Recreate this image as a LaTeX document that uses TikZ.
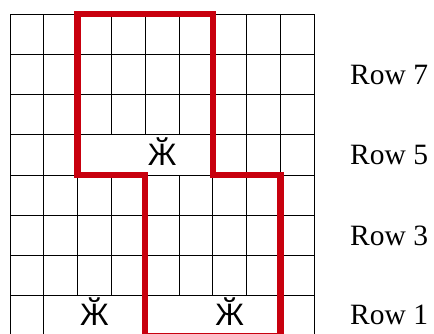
\documentclass[tikz,border=0pt]{standalone}
\usepackage{fontspec}
\setmainfont{Liberation Serif}
\newfontfamily\zhefont{Liberation Sans}
\definecolor{wallred}{RGB}{200,0,14}
\tikzset{
  gridline/.style={black, line width=0.9pt},
  wall/.style={wallred, line width=6.5pt, line join=miter},
  rowlabel/.style={anchor=base west, inner sep=0pt, font=\fontsize{29.5}{31}\selectfont},
  zhe/.style={anchor=base, inner sep=0pt, font=\zhefont\fontsize{31}{33}\selectfont}
}
\begin{document}
\begin{tikzpicture}[x=1pt,y=-1pt]
\useasboundingbox (0,0) rectangle (434,333);
\clip (0,0) rectangle (434,333);
% column and row positions
\foreach \c in {0,...,9} {\pgfmathsetmacro{\xx}{10+33.8*\c}\expandafter\xdef\csname X\c\endcsname{\xx}}
\foreach \r in {0,...,8} {\pgfmathsetmacro{\yy}{14+40.25*\r}\expandafter\xdef\csname Y\r\endcsname{\yy}}
\def\X#1{\csname X#1\endcsname}
\def\Y#1{\csname Y#1\endcsname}
% horizontal grid lines
\foreach \r in {0,...,8} \draw[gridline] (\X0,\Y\r) -- (\X9,\Y\r);
% vertical grid lines
\foreach \c in {0,1,8,9} \draw[gridline] (\X\c,\Y0) -- (\X\c,\Y8);
\foreach \c in {2,6,7} \draw[gridline] (\X\c,\Y0) -- (\X\c,\Y7);
\foreach \c in {3,5} {\draw[gridline] (\X\c,\Y0) -- (\X\c,\Y3); \draw[gridline] (\X\c,\Y4) -- (\X\c,\Y7);}
\draw[gridline] (\X4,\Y0) -- (\X4,\Y3); \draw[gridline] (\X4,\Y4) -- (\X4,\Y8);
% red wall
\coordinate (bl) at (\X4,336.6);
\coordinate (br) at (\X8,336.6);
\draw[wall] (\X2,\Y0) -- (\X6,\Y0) -- (\X6,\Y4) -- (\X8,\Y4) -- (br) -- (bl) -- (\X4,\Y4) -- (\X2,\Y4) -- cycle;
% symbols
\node[zhe] (z1) at ({(\X2+\X7)/2},165) {Ӂ};
\node[zhe] (z2) at ({(\X1+\X4)/2},325) {Ӂ};
\node[zhe] (z3) at ({(\X5+\X8)/2},325) {Ӂ};
% row labels
\node[rowlabel] (r7) at (350,84) {Row 7};
\node[rowlabel] (r5) at (350,164.5) {Row 5};
\node[rowlabel] (r3) at (350,245) {Row 3};
\node[rowlabel] (r1) at (350,324) {Row 1};
\end{tikzpicture}
\end{document}
